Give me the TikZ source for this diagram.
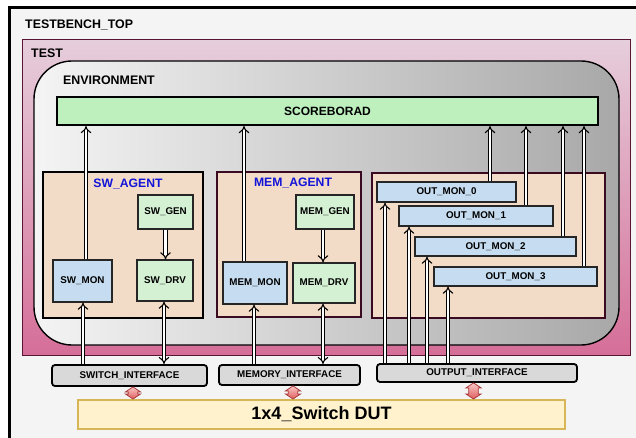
\documentclass[tikz,border=0pt]{standalone}
\usepackage{fontspec}
\setmainfont{Liberation Sans}
\usetikzlibrary{arrows.meta,calc}
\definecolor{bgray}{HTML}{F4F4F4}
\definecolor{testtop}{HTML}{E6CEDC}
\definecolor{testbot}{HTML}{D56E98}
\definecolor{testline}{HTML}{5A1532}
\definecolor{envleft}{HTML}{F4F4F4}
\definecolor{envright}{HTML}{A8A8A8}
\definecolor{sbgreen}{HTML}{BDF0BD}
\definecolor{gengreen}{HTML}{D4F1D4}
\definecolor{monblue}{HTML}{C6DCF0}
\definecolor{peach}{HTML}{F2DCC8}
\definecolor{agline}{HTML}{3A0A20}
\definecolor{ifgray}{HTML}{D9D9D9}
\definecolor{dutfill}{HTML}{FFF2CC}
\definecolor{dutline}{HTML}{D6B656}
\definecolor{agblue}{HTML}{1414D8}
\definecolor{redtop}{HTML}{F9C8C8}
\definecolor{redbot}{HTML}{E05C5C}
\definecolor{redline}{HTML}{A83838}
\newcommand\mkredarrow[2]{%
  \shadedraw[redarrow] let \p1=#1, \p2=#2 in
  (\x1,\y1) -- ({\x1+7.5pt},{\y1-5pt}) -- ({\x1+4.8pt},{\y1-5pt}) -- ({\x1+4.8pt},{\y2+5pt})
  -- ({\x1+7.5pt},{\y2+5pt}) -- (\x1,\y2) -- ({\x1-7.5pt},{\y2+5pt}) -- ({\x1-4.8pt},{\y2+5pt})
  -- ({\x1-4.8pt},{\y1-5pt}) -- ({\x1-7.5pt},{\y1-5pt}) -- cycle;}
\begin{document}
\begin{tikzpicture}[x=1pt,y=-1pt,
  box/.style={draw=black!85, line width=1.1pt, inner sep=0pt, align=center,
    font=\fontsize{9.8}{11}\selectfont\bfseries},
  mon/.style={box, fill=monblue},
  gen/.style={box, fill=gengreen},
  agent/.style={line width=1.8pt, fill=peach, inner sep=0pt},
  aglabel/.style={text=agblue, inner sep=0pt, font=\fontsize{12.2}{14}\selectfont\bfseries},
  title/.style={anchor=base west, inner sep=0pt, font=\fontsize{12.4}{14}\selectfont\bfseries},
  iface/.style={draw=black, line width=1.8pt, rounded corners=3pt, fill=ifgray, inner sep=0pt,
    font=\fontsize{9.8}{11}\selectfont\bfseries},
  dbl/.style={draw=black, double=white, double distance=2.5pt, line width=1.1pt, -{Implies}},
  dblb/.style={dbl, {Implies}-{Implies}},
  redarrow/.style={draw=redline, line width=0.8pt, top color=redtop, bottom color=redbot}
]
\useasboundingbox (0,0) rectangle (636,438);
\fill[white] (0,0) rectangle (636,438);
% outer frame
\draw[line width=3pt, fill=bgray] (9.5,8) rectangle (645,448);
\node[title] (tbt) at (25,29) {TESTBENCH\_TOP};
% TEST
\node[draw=testline, line width=1pt, top color=testtop, bottom color=testbot,
  minimum width=608, minimum height=315, inner sep=0pt] (test) at (326,197.5) {};
\node[title] (testl) at (31,58) {TEST};
% ENVIRONMENT
\node[draw=black, line width=1.4pt, rounded corners=38pt, left color=envleft, right color=envright,
  minimum width=585, minimum height=284, inner sep=0pt] (env) at (326.5,203) {};
\node[title] (envl) at (63,85) {ENVIRONMENT};
% scoreboard
\node[draw=black, line width=2pt, fill=sbgreen, minimum width=541, minimum height=28, inner sep=0pt,
  font=\fontsize{12}{14}\selectfont\bfseries] (sb) at (327.5,111) {SCOREBORAD};
% agents
\node[agent, draw=black, minimum width=160, minimum height=146] (swag) at (123,245) {};
\node[aglabel] (swagl) at (128,184) {SW\_AGENT};
\node[agent, draw=agline, minimum width=144, minimum height=145] (memag) at (289,244.5) {};
\node[aglabel] (memagl) at (293,183) {MEM\_AGENT};
\node[agent, draw=agline, minimum width=233, minimum height=145] (outag) at (488.5,245.5) {};
% inner boxes
\node[gen, minimum width=55, minimum height=34] (swgen) at (165.5,212) {SW\_GEN};
\node[gen, minimum width=56, minimum height=41] (swdrv) at (165,280.5) {SW\_DRV};
\node[mon, minimum width=59, minimum height=42] (swmon) at (82.5,281) {SW\_MON};
\node[gen, minimum width=58, minimum height=34] (memgen) at (325,212) {MEM\_GEN};
\node[gen, minimum width=62, minimum height=40] (memdrv) at (324,283) {MEM\_DRV};
\node[mon, minimum width=64, minimum height=42] (memmon) at (255,283) {MEM\_MON};
\node[mon, minimum width=139, minimum height=20] (om0) at (446.5,192) {OUT\_MON\_0};
\node[mon, minimum width=154, minimum height=20] (om1) at (476,216) {OUT\_MON\_1};
\node[mon, minimum width=161, minimum height=19] (om2) at (495.5,246.5) {OUT\_MON\_2};
\node[mon, minimum width=163, minimum height=19] (om3) at (515.5,276.5) {OUT\_MON\_3};
% interfaces
\node[iface, minimum width=155, minimum height=21] (swif) at (129.5,375.5) {SWITCH\_INTERFACE};
\node[iface, minimum width=141, minimum height=20] (memif) at (289.5,375) {MEMORY\_INTERFACE};
\node[iface, minimum width=200, minimum height=18] (outif) at (477,373) {OUTPUT\_INTERFACE};
% DUT
\node[draw=dutline, line width=2pt, fill=dutfill, minimum width=487, minimum height=29, inner sep=0pt,
  font=\fontsize{18}{20}\selectfont\bfseries] (dut) at (321.5,414.5) {1x4\_Switch DUT};
% connector coordinates
\coordinate (c1) at ([xshift=3.5pt]swmon.north);
\coordinate (c2) at ([xshift=0.5pt]swmon.south);
\coordinate (c3) at ([xshift=-1pt]swdrv.south);
\coordinate (c4) at ([xshift=-11pt]memmon.north);
\coordinate (c5) at ([xshift=-1pt]memmon.south);
\coordinate (c6) at ([xshift=-2pt]memgen.south);
\coordinate (c7) at ([xshift=-1pt]memdrv.south);
\coordinate (u0) at ([xshift=43.5pt]om0.north);
\coordinate (u1) at ([xshift=50pt]om1.north);
\coordinate (u2) at ([xshift=67.5pt]om2.north);
\coordinate (u3) at ([xshift=68.5pt]om3.north);
\coordinate (d0) at ([xshift=-61.5pt]om0.south);
\coordinate (d1) at ([xshift=-67pt]om1.south);
\coordinate (d2) at ([xshift=-68.5pt]om2.south);
\coordinate (d3) at ([xshift=-67.5pt]om3.south);
% connectors
\draw[dbl] (c1) -- (c1 |- sb.south);
\draw[dbl] (c2 |- swif.north) -- (c2);
\draw[dbl] (swgen.south) -- (swgen.south |- swdrv.north);
\draw[dblb] (c3 |- swif.north) -- (c3);
\draw[dbl] (c4) -- (c4 |- sb.south);
\draw[dbl] (c5 |- memif.north) -- (c5);
\draw[dbl] (c6) -- (c6 |- memdrv.north);
\draw[dblb] (c7 |- memif.north) -- (c7);
\draw[dbl] (u0) -- (u0 |- sb.south);
\draw[dbl] (u1) -- (u1 |- sb.south);
\draw[dbl] (u2) -- (u2 |- sb.south);
\draw[dbl] (u3) -- (u3 |- sb.south);
\draw[dbl] (d0 |- outif.north) -- (d0);
\draw[dbl] (d1 |- outif.north) -- (d1);
\draw[dbl] (d2 |- outif.north) -- (d2);
\draw[dbl] (d3 |- outif.north) -- (d3);
% red arrows
\coordinate (r1) at ([xshift=3.5pt]swif.south);
\coordinate (r2) at ([xshift=3.5pt]memif.south);
\coordinate (r3) at ([xshift=-3.5pt]outif.south);
\mkredarrow{(r1)}{(r1 |- dut.north)}
\mkredarrow{(r2)}{(r2 |- dut.north)}
\mkredarrow{(r3)}{(r3 |- dut.north)}
\end{tikzpicture}
\end{document}
